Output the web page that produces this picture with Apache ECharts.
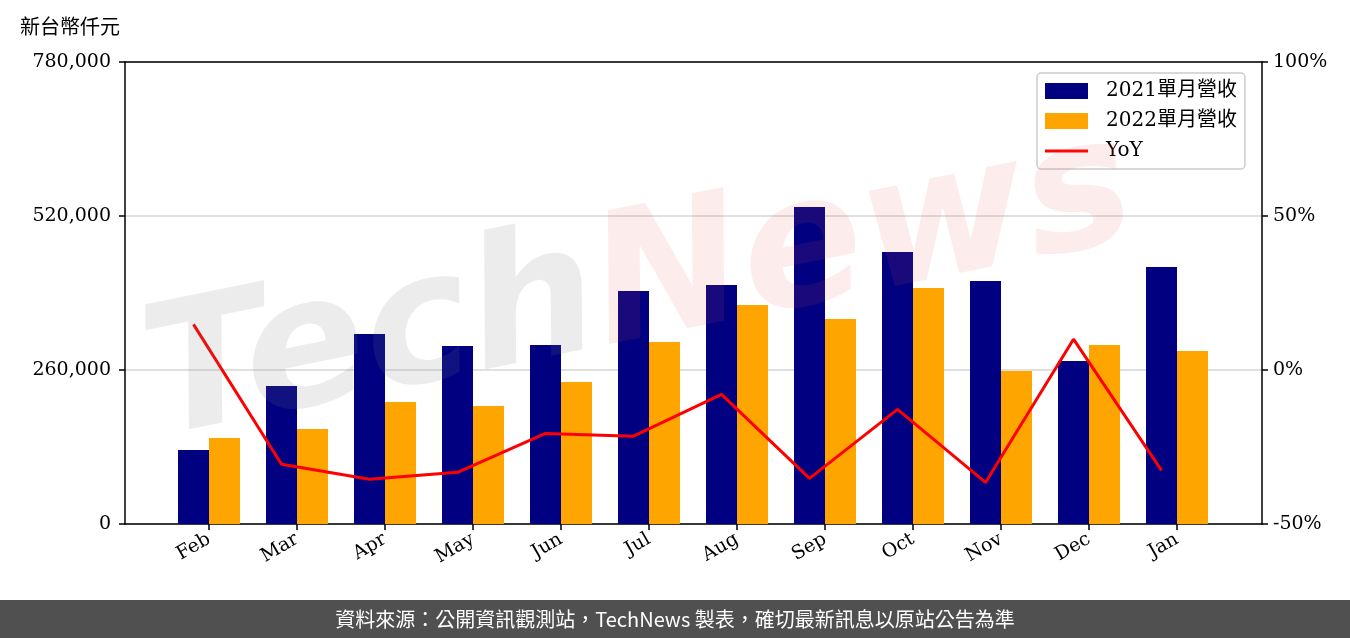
<!DOCTYPE html>
<html>
<head>
<meta charset="utf-8">
<script src="https://cdn.jsdelivr.net/npm/echarts@6/dist/echarts.min.js"></script>
<style>
  html, body { margin: 0; padding: 0; background: #fff; }
  #chart { width: 1350px; height: 638px; }
</style>
</head>
<body>
<div id="chart"></div>
<script>
// 月份
const months = ['Feb', 'Mar', 'Apr', 'May', 'Jun', 'Jul', 'Aug', 'Sep', 'Oct', 'Nov', 'Dec', 'Jan'];
// 單月營收（新台幣仟元）
const rev2021 = [124900, 233000, 320700, 300500, 302200, 393400, 403500, 535200, 459200, 410300, 275200, 433900];
const rev2022 = [145200, 160400, 206000, 199200, 239700, 307300, 369700, 346100, 398400, 258300, 302200, 292100];
// 年增率 %
const yoy = [14.8, -30.6, -35.5, -33.2, -20.6, -21.5, -7.9, -35.2, -12.8, -36.5, 10.0, -32.6];
const leftTicks = [0, 260000, 520000, 780000];
const rightTicks = [-50, 0, 50, 100];

const serif = '"DejaVu Serif", "Noto Sans CJK TC", serif';
const sans = '"Noto Sans CJK TC", "Noto Sans", sans-serif';

const chart = echarts.init(document.getElementById('chart'));

const spine = { show: true, onZero: false, lineStyle: { color: '#000', width: 1.5 } };
const tick = { show: true, length: 6, lineStyle: { color: '#000', width: 1.5 } };

const option = {
  backgroundColor: '#fff',
  animation: false,
  grid: [
    { left: 125, right: 88, top: 62, bottom: 114 },
    { left: 165, width: 1056, top: 62, bottom: 114 },
    { left: 149.5, width: 1056, top: 62, bottom: 114 }
  ],
  legend: {
    orient: 'vertical',
    left: 1037,
    top: 73,
    padding: [8, 8, 8, 8],
    itemWidth: 43,
    itemHeight: 16,
    itemGap: 10,
    borderColor: '#cccccc',
    borderWidth: 1.5,
    borderRadius: 4,
    backgroundColor: 'rgba(255,255,255,0.85)',
    textStyle: { fontFamily: serif, fontSize: 20, color: '#000', lineHeight: 19, padding: [0, 0, 0, 13] },
    data: [
      { name: '2021單月營收', icon: 'rect' },
      { name: '2022單月營收', icon: 'rect' },
      { name: 'YoY', icon: 'path://M0,0 L43,0 L43,3 L0,3 Z' }
    ],
    z: 20
  },
  xAxis: [
    { type: 'value', gridIndex: 0, min: 0, max: 1, position: 'bottom',
      axisLine: spine, axisTick: { show: false }, axisLabel: { show: false }, splitLine: { show: false } },
    { type: 'value', gridIndex: 0, min: 0, max: 1, position: 'top',
      axisLine: spine, axisTick: { show: false }, axisLabel: { show: false }, splitLine: { show: false } },
    { type: 'category', gridIndex: 1, data: months,
      axisLine: { show: false },
      axisTick: { show: true, alignWithLabel: true, length: 6, lineStyle: { color: '#000', width: 1.5 } },
      axisLabel: { rotate: 30, fontFamily: serif, fontSize: 19, color: '#000', margin: 14 } },
    { type: 'category', gridIndex: 2, data: months, show: false }
  ],
  yAxis: [
    { type: 'value', gridIndex: 0, position: 'left', min: leftTicks[0], max: leftTicks[3], interval: 260000,
      axisLine: spine, axisTick: tick,
      axisLabel: { fontFamily: serif, fontSize: 19, color: '#000', margin: 14,
        formatter: v => v.toLocaleString('en-US') },
      splitLine: { show: true, lineStyle: { color: '#d6d6d6', width: 1.5 } } },
    { type: 'value', gridIndex: 0, position: 'right', min: rightTicks[0], max: rightTicks[3], interval: 50,
      axisLine: spine, axisTick: tick,
      axisLabel: { fontFamily: serif, fontSize: 19, color: '#000', margin: 11, formatter: '{value}%' },
      splitLine: { show: false } },
    { type: 'value', gridIndex: 1, min: 0, max: 780000, show: false, splitLine: { show: false } },
    { type: 'value', gridIndex: 2, min: -50, max: 100, show: false, splitLine: { show: false } }
  ],
  series: [
    { name: '2021單月營收', type: 'bar', xAxisIndex: 2, yAxisIndex: 2, data: rev2021,
      barWidth: 31, barGap: '0%', itemStyle: { color: '#000080' } },
    { name: '2022單月營收', type: 'bar', xAxisIndex: 2, yAxisIndex: 2, data: rev2022,
      barWidth: 31, barGap: '0%', itemStyle: { color: '#ffa500' } },
    { name: 'YoY', type: 'line', xAxisIndex: 3, yAxisIndex: 3, data: yoy,
      symbol: 'none', lineStyle: { color: '#ff0000', width: 3 }, itemStyle: { color: '#ff0000' }, z: 5 }
  ],
  graphic: [
    { type: 'text', left: 20, top: 16,
      style: { text: '新台幣仟元', font: '20px ' + sans, fill: '#000' } },
    { type: 'text', x: 640, y: 290, rotation: 0.2, z: 30, silent: true,
      style: {
        text: '{a|Tech}{b|News}',
        align: 'center', verticalAlign: 'middle',
        rich: {
          a: { font: 'italic bold 180px "DejaVu Sans", sans-serif', fill: 'rgba(120,120,120,0.14)' },
          b: { font: 'italic bold 180px "DejaVu Sans", sans-serif', fill: 'rgba(230,80,80,0.11)' }
        }
      } },
    { type: 'rect', left: 0, top: 600, z: 40,
      shape: { width: 1350, height: 38 }, style: { fill: '#505050' } },
    { type: 'text', x: 675, y: 619, z: 41,
      style: { text: '資料來源：公開資訊觀測站，TechNews 製表，確切最新訊息以原站公告為準',
        font: '20px ' + sans, fill: '#fff', align: 'center', verticalAlign: 'middle' } }
  ]
};

chart.setOption(option);
</script>
</body>
</html>
